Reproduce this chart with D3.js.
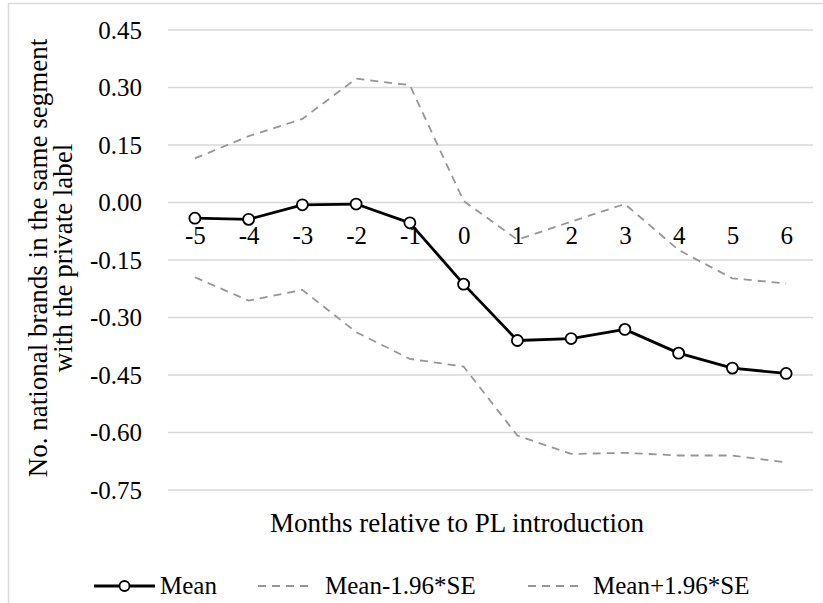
<!DOCTYPE html>
<html>
<head>
<meta charset="utf-8">
<script src="https://cdn.jsdelivr.net/npm/d3@7"></script>
<style>
  body { margin: 0; }
  #fig text, svg text, text { font-family: "Liberation Serif", "Tinos", "Times New Roman", serif !important; }
</style>
</head>
<body>
<div id="wrap"></div>
<script>
const months = ["-5", "-4", "-3", "-2", "-1", "0", "1", "2", "3", "4", "5", "6"];
const meanValues  = [-0.041, -0.044, -0.006, -0.004, -0.053, -0.213, -0.360, -0.355, -0.331, -0.393, -0.432, -0.446];
const lowerValues = [-0.195, -0.256, -0.228, -0.338, -0.408, -0.428, -0.608, -0.656, -0.653, -0.660, -0.660, -0.678];
const upperValues = [0.115, 0.173, 0.218, 0.323, 0.306, 0.004, -0.097, -0.050, -0.004, -0.124, -0.198, -0.211];
const yTicks = [0.45, 0.30, 0.15, 0.00, -0.15, -0.30, -0.45, -0.60, -0.75];
const seriesNames = ["Mean", "Mean-1.96*SE", "Mean+1.96*SE"];
const xTitle = "Months relative to PL introduction";
const yTitleLines = ["No. national brands in the same segment", "with the private label"];

const FONT = "Liberation Serif";
const svg = d3.select("#wrap").append("svg")
  .attr("id", "fig").attr("width", 823).attr("height", 603)
  .style("display", "block");

function serif(sel, size) {
  return sel.style("font-family", FONT).attr("font-size", size).attr("fill", "#000");
}

// outer border (chart area frame)
svg.append("rect")
  .attr("x", 8.5).attr("y", 3.5)
  .attr("width", 900).attr("height", 700)
  .attr("fill", "none").attr("stroke", "#d9d9d9").attr("stroke-width", 1.5);

const x = d3.scalePoint().domain(months).range([168, 813]).padding(0.5);
const y = d3.scaleLinear().domain([-0.75, 0.45]).range([490, 30]);

// gridlines
svg.append("g")
  .selectAll("line").data(yTicks).join("line")
  .attr("x1", 168).attr("x2", 813)
  .attr("y1", d => y(d)).attr("y2", d => y(d))
  .attr("stroke", "#d9d9d9").attr("stroke-width", 1.6);

// y axis labels
const fmt = d3.format(".2f");
const yAxis = d3.axisLeft(y).tickValues(yTicks)
  .tickFormat(d => fmt(d).replace("\u2212", "-")).tickSize(0).tickPadding(0);
const gy = svg.append("g").attr("transform", "translate(142,0)").call(yAxis);
gy.attr("font-family", null).attr("font-size", null);
gy.select(".domain").remove();
serif(gy.selectAll("text"), 25).attr("dy", "0.33em");

// x axis labels placed along the zero line
const xAxis = d3.axisBottom(x).tickSize(0).tickPadding(0);
const gx = svg.append("g").attr("transform", `translate(0,${y(0)})`).call(xAxis);
gx.attr("font-family", null).attr("font-size", null);
gx.select(".domain").remove();
serif(gx.selectAll("text"), 25).attr("y", 41.5).attr("dy", 0);

// series lines
const line = d3.line().x((d, i) => x(months[i])).y(d => y(d));

svg.append("path").datum(lowerValues)
  .attr("d", line).attr("fill", "none")
  .attr("stroke", "#969696").attr("stroke-width", 1.8).attr("stroke-dasharray", "8,6");
svg.append("path").datum(upperValues)
  .attr("d", line).attr("fill", "none")
  .attr("stroke", "#969696").attr("stroke-width", 1.8).attr("stroke-dasharray", "8,6");

svg.append("path").datum(meanValues)
  .attr("d", line).attr("fill", "none")
  .attr("stroke", "#000").attr("stroke-width", 2.8).attr("stroke-linejoin", "round");

svg.append("g").selectAll("circle").data(meanValues).join("circle")
  .attr("cx", (d, i) => x(months[i])).attr("cy", d => y(d))
  .attr("r", 5.5).attr("fill", "#fff").attr("stroke", "#000").attr("stroke-width", 1.8);

// axis titles
serif(svg.append("text"), 27)
  .attr("x", 457).attr("y", 532)
  .attr("text-anchor", "middle")
  .text(xTitle);

yTitleLines.forEach((t, i) => {
  serif(svg.append("text"), 27)
    .attr("transform", `translate(${i === 0 ? 46.5 : 72},258) rotate(-90)`)
    .attr("text-anchor", "middle")
    .text(t);
});

// legend
const lg = svg.append("g");
const legendY = 586;
lg.append("line").attr("x1", 94).attr("x2", 155).attr("y1", legendY).attr("y2", legendY)
  .attr("stroke", "#000").attr("stroke-width", 2.8);
lg.append("circle").attr("cx", 124.5).attr("cy", legendY).attr("r", 5)
  .attr("fill", "#fff").attr("stroke", "#000").attr("stroke-width", 1.8);
serif(lg.append("text"), 25).attr("x", 160).attr("y", 594).text(seriesNames[0]);

lg.append("line").attr("x1", 258).attr("x2", 314).attr("y1", legendY).attr("y2", legendY)
  .attr("stroke", "#969696").attr("stroke-width", 1.8).attr("stroke-dasharray", "8,6");
serif(lg.append("text"), 25).attr("x", 325).attr("y", 594).text(seriesNames[1]);

lg.append("line").attr("x1", 528).attr("x2", 584).attr("y1", legendY).attr("y2", legendY)
  .attr("stroke", "#969696").attr("stroke-width", 1.8).attr("stroke-dasharray", "8,6");
serif(lg.append("text"), 25).attr("x", 593).attr("y", 594).text(seriesNames[2]);
</script>
</body>
</html>
